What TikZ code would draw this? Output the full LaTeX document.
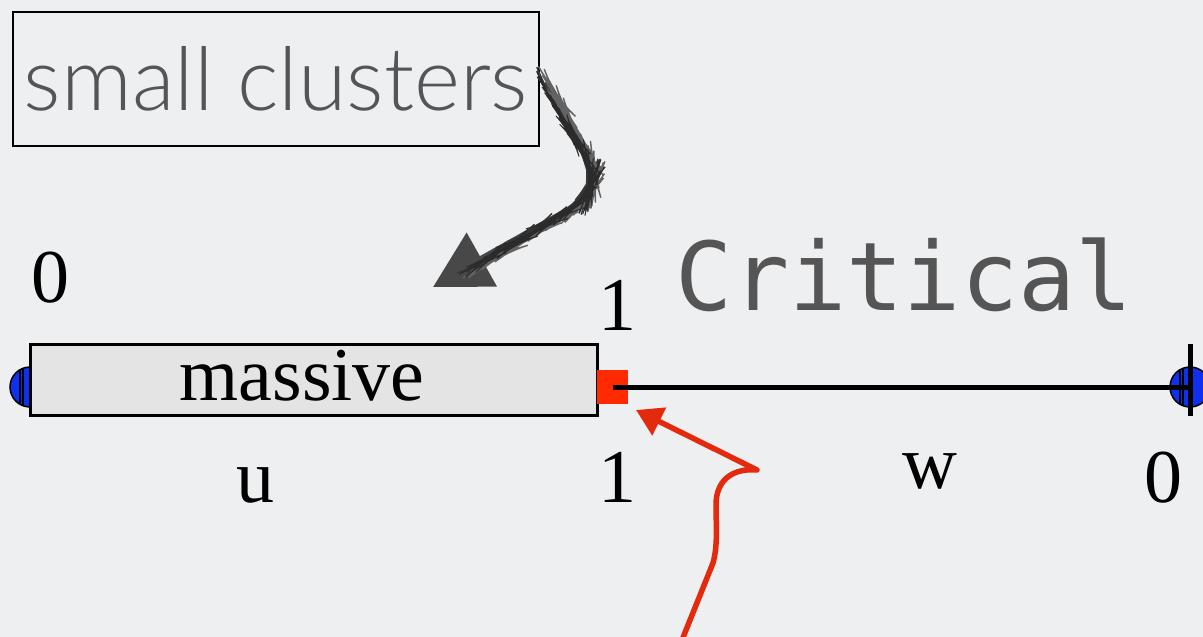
\documentclass[tikz,border=0pt]{standalone}
\usepackage{fontspec}
\setmainfont{Liberation Serif}
\newfontfamily\thinsans{Lato Light}
\newfontfamily\monotext{DejaVu Sans Mono}
\usetikzlibrary{arrows.meta,decorations.pathmorphing}
\definecolor{bg}{HTML}{EEEFF1}
\definecolor{boxgray}{HTML}{E4E4E4}
\definecolor{ink}{HTML}{555555}
\definecolor{sketch}{HTML}{484848}
\definecolor{redmark}{HTML}{FF2A00}
\definecolor{redline}{HTML}{E42A0C}
\definecolor{endblue}{HTML}{1030F0}
\tikzset{
  numlabel/.style={anchor=base, inner sep=0, font=\fontsize{76}{76}\selectfont},
  endcap/.style={draw=black, line width=1.5, fill=endblue},
  axis/.style={line width=5, draw=black},
  pencil/.style={line width=1.4, rounded corners=24, decorate,
                 decoration={random steps, segment length=5, amplitude=0.8}},
}
\begin{document}
\begin{tikzpicture}[x=1pt,y=-1pt]
  \fill[bg] (0,0) rectangle (1203,637);
  \useasboundingbox (0,0) rectangle (1203,637);

  % label box
  \node[draw=black, line width=2.5, minimum width=526, minimum height=134,
        inner sep=0, text=ink, font=\thinsans\fontsize{88}{88}\selectfont]
        (sc) at (276,79) {small clusters};

  % left end cap (half disc)
  \begin{scope}
    \clip (0,340) rectangle (30,440);
    \draw[endcap] (30,387) circle (20);
    \draw[line width=1.5] (20,370) -- (20,404) (23,368) -- (23,406);
  \end{scope}

  % massive bar
  \node[draw=black, line width=3, fill=boxgray, minimum width=567,
        minimum height=71, inner sep=0] (bar) at (313.5,380) {};
  \node[numlabel] (massive) at (302,400) {massive};

  % right end cap
  \begin{scope}
    \clip (1150,340) rectangle (1203,440);
    \draw[endcap] (1190,387) circle (20);
    \draw[line width=1.5] (1180,369) -- (1180,405) (1183,368) -- (1183,406);
  \end{scope}

  % critical point and segment
  \node[fill=redmark, minimum width=31, minimum height=34, inner sep=0] (crit) at (612.5,387) {};
  \coordinate (rend) at (1190,387);
  \draw[axis] (crit.center) -- (rend);
  \draw[line width=5] (1190,344) -- (1190,416);

  % numbers and letters
  \node[numlabel] (z1) at (50,302) {0};
  \node[numlabel] (o1) at (617,330) {1};
  \node[numlabel] (u) at (255,502) {u};
  \node[numlabel] (o2) at (617,502) {1};
  \node[numlabel] (w) at (930,488) {w};
  \node[numlabel] (z2) at (1163,502) {0};

  \node[anchor=base west, inner sep=0, text=ink,
        font=\monotext\fontsize{95}{95}\selectfont] (crt) at (675,310) {Critical};

  % hand-drawn pointer from the label
  \coordinate (s0) at (546,82);
  \coordinate (s1) at (433,287);
  \draw[sketch, line width=8, rounded corners=24,
        -{Triangle[length=56,width=60]}]
    (s0) -- (597,172) -- (588,200) -- (s1);
  \draw[sketch!75!black, pencil] (544,84) -- (594,173) -- (585,199) -- (476,266);
  \draw[sketch!85, pencil] (548,82) -- (600,171) -- (590,202) -- (480,268);
  \draw[sketch!60!black, pencil, line width=1] (546,90) -- (596,174) -- (587,200) -- (478,265);

  % red pointer to the critical point
  \coordinate (r0) at (682,640);
  \coordinate (r1) at (636,410);
  \draw[redline, line width=5.5, line join=round,
        -{Triangle[length=26,width=30]}]
    (r0) -- (713,563) .. controls (718,545) and (716,525) .. (716,505)
    .. controls (716,478) and (735,468) .. (757,470) -- (r1);
\end{tikzpicture}
\end{document}
